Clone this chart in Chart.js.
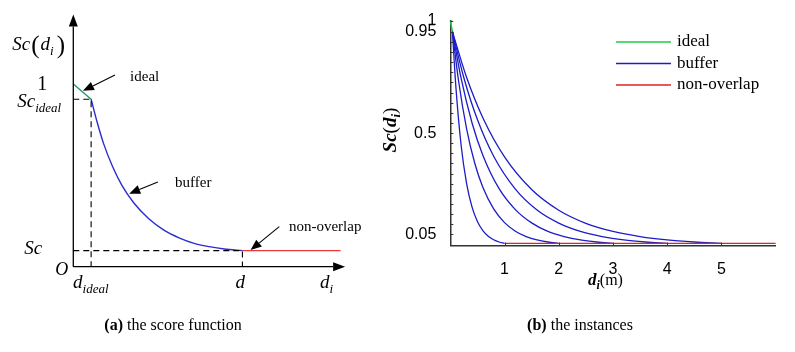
<!DOCTYPE html>
<html>
<head>
<meta charset="utf-8">
<script src="https://cdn.jsdelivr.net/npm/chart.js@4.4.1/dist/chart.umd.min.js"></script>
<style>
  body { margin: 0; background: #fff; width: 795px; height: 352px; position: relative; overflow: hidden; }
  #chartA { position: absolute; left: 0; top: 0; }
  #chartB { position: absolute; left: 370px; top: 0; }
  .caption { position: absolute; top: 316px; font: 16px "Liberation Serif", serif; color: #000; white-space: nowrap; transform: translateX(-50%); }
</style>
</head>
<body>
<canvas id="chartA" width="370" height="352"></canvas>
<canvas id="chartB" width="425" height="352"></canvas>
<div class="caption" style="left:173px"><b>(a)</b> the score function</div>
<div class="caption" style="left:580px"><b>(b)</b> the instances</div>
<script>
// ---- Panel (a): schematische Bewertungsfunktion ----
const aIdealX = [0, 0.59];
const aIdealY = [1.0, 0.917];
const aBufferX = [0.59, 0.8, 1.0, 1.3, 1.6, 2.0, 2.5, 3.0, 3.5, 4.0, 4.5, 5.0, 5.6];
const aBufferY = [0.917, 0.785, 0.675, 0.548, 0.448, 0.350, 0.262, 0.200, 0.158, 0.128, 0.110, 0.097, 0.088];
const aOverlapX = [5.60, 8.85];
const aOverlapY = [0.088, 0.088];
const aDIdeal = 0.59, aScIdeal = 0.917, aD = 5.60, aSc = 0.088;
const aXMax = 9, aYMax = 1.38;
// Pfeil-Beschriftungen: [Text, Start x, Start y, Spitze x, Spitze y, Text x, Text y]
const aNotes = [
    ['ideal', 1.38, 1.049, 0.32, 0.963, 1.88, 1.038],
    ['buffer', 2.80, 0.464, 1.85, 0.40, 3.37, 0.458],
    ['non-overlap', 6.82, 0.219, 5.87, 0.091, 7.14, 0.217]
];

// ---- Panel (b): Instanzen ----
const bXTicks = [1, 2, 3, 4, 5];
const bYTicks = [0.05, 0.095, 0.14, 0.185, 0.23, 0.275, 0.32, 0.365, 0.41, 0.455, 0.5,
                 0.545, 0.59, 0.635, 0.68, 0.725, 0.77, 0.815, 0.86, 0.905, 0.95, 1];
const bYLabels = [0.05, 0.5, 0.95, 1];
const bIdealX = [0, 0.04];
const bIdealY = [1, 0.95];
const bBuffer1X = [0.04, 0.1, 0.2, 0.3, 0.4, 0.5, 0.6, 0.7, 0.8, 0.9, 1.0];
const bBuffer1Y = [0.95, 0.715, 0.445, 0.277, 0.172, 0.107, 0.067, 0.042, 0.026, 0.016, 0.01];
const bBuffer2X = [0.04, 0.15, 0.3, 0.45, 0.6, 0.8, 1.0, 1.2, 1.4, 1.6, 1.8, 2.0];
const bBuffer2Y = [0.95, 0.736, 0.520, 0.367, 0.259, 0.163, 0.102, 0.064, 0.040, 0.025, 0.016, 0.01];
const bBuffer3X = [0.04, 0.2, 0.4, 0.6, 0.9, 1.2, 1.5, 1.8, 2.1, 2.4, 2.7, 3.0];
const bBuffer3Y = [0.95, 0.743, 0.546, 0.402, 0.253, 0.160, 0.101, 0.063, 0.040, 0.025, 0.016, 0.01];
const bBuffer4X = [0.04, 0.25, 0.5, 0.8, 1.2, 1.6, 2.0, 2.4, 2.8, 3.2, 3.6, 4.0];
const bBuffer4Y = [0.95, 0.746, 0.560, 0.397, 0.251, 0.158, 0.100, 0.063, 0.040, 0.025, 0.016, 0.01];
const bBuffer5X = [0.04, 0.3, 0.6, 1.0, 1.5, 2.0, 2.5, 3.0, 3.5, 4.0, 4.5, 5.0];
const bBuffer5Y = [0.95, 0.748, 0.568, 0.394, 0.249, 0.157, 0.099, 0.063, 0.040, 0.025, 0.016, 0.01];
const bOverlapX = [1, 6];
const bOverlapY = [0.01, 0.01];
const bLegend = [['ideal', '#22c84a'], ['buffer', '#1c1cc8'], ['non-overlap', '#dc2424']];

const serif = '"Liberation Serif", serif';
const sans = '"Liberation Sans", Arial, sans-serif';

function toPoints(xs, ys) {
    return xs.map((x, i) => ({ x: x, y: ys[i] }));
}

function line(xs, ys, color, width, extra) {
    return Object.assign({
        data: toPoints(xs, ys),
        borderColor: color,
        borderWidth: width,
        pointRadius: 0,
        fill: false,
        tension: 0,
        clip: false
    }, extra || {});
}

// Text aus mehreren Teilen (für Indizes)
function drawRich(ctx, x, y, parts) {
    let cx = x;
    parts.forEach(p => {
        ctx.font = p.f;
        cx += p.pre || 0;
        ctx.fillText(p.t, cx, y + (p.dy || 0));
        cx += ctx.measureText(p.t).width + (p.post || 0);
    });
    return cx - x;
}

function measureRich(ctx, parts) {
    let w = 0;
    parts.forEach(p => {
        ctx.font = p.f;
        w += (p.pre || 0) + ctx.measureText(p.t).width + (p.post || 0);
    });
    return w;
}

function arrow(ctx, x1, y1, x2, y2, len, half) {
    const a = Math.atan2(y2 - y1, x2 - x1);
    const bx = x2 - len * Math.cos(a), by = y2 - len * Math.sin(a);
    ctx.beginPath();
    ctx.moveTo(x1, y1);
    ctx.lineTo(bx, by);
    ctx.stroke();
    ctx.beginPath();
    ctx.moveTo(x2, y2);
    ctx.lineTo(bx + half * Math.sin(a), by - half * Math.cos(a));
    ctx.lineTo(bx - half * Math.sin(a), by + half * Math.cos(a));
    ctx.closePath();
    ctx.fill();
}

const it = s => `italic ${s}px ${serif}`;
const rg = s => `${s}px ${serif}`;

// Achsen, Pfeile und Beschriftungen für Panel (a)
const schemePlugin = {
    id: 'schemePlugin',
    afterDatasetsDraw(chart) {
        const { ctx, scales: { x, y } } = chart;
        const px = v => x.getPixelForValue(v);
        const py = v => y.getPixelForValue(v);
        ctx.save();
        ctx.strokeStyle = '#000';
        ctx.fillStyle = '#000';
        ctx.lineWidth = 1.3;
        arrow(ctx, px(0), py(0), px(0), py(aYMax), 12, 4.5);
        arrow(ctx, px(0), py(0), px(aXMax), py(0), 12, 4.5);

        ctx.lineWidth = 1.1;
        aNotes.forEach(n => arrow(ctx, px(n[1]), py(n[2]), px(n[3]), py(n[4]), 11, 4.5));
        ctx.textBaseline = 'middle';
        ctx.font = rg(15);
        aNotes.forEach(n => ctx.fillText(n[0], px(n[5]), py(n[6])));

        ctx.textBaseline = 'alphabetic';
        const x0 = px(0), y0 = py(0);
        drawRich(ctx, x0 - 61, 50, [
            { t: 'Sc', f: it(19) },
            { t: '(', f: rg(25), pre: 1, post: 1, dy: 3 },
            { t: 'd', f: it(19) },
            { t: 'i', f: it(13), dy: 5 },
            { t: ')', f: rg(25), pre: 3, dy: 3 }
        ]);
        ctx.font = rg(20);
        ctx.textAlign = 'center';
        ctx.fillText('1', x0 - 31, py(1) + 6);
        ctx.textAlign = 'left';
        drawRich(ctx, x0 - 56, py(aScIdeal) + 8, [
            { t: 'Sc', f: it(19) },
            { t: 'ideal', f: it(13), dy: 5 }
        ]);
        drawRich(ctx, x0 - 49, py(aSc) + 3, [{ t: 'Sc', f: it(19) }]);
        drawRich(ctx, x0 - 18, y0 + 8, [{ t: 'O', f: it(18) }]);
        drawRich(ctx, px(aDIdeal) - 18, y0 + 21, [
            { t: 'd', f: it(19) },
            { t: 'ideal', f: it(13), dy: 5 }
        ]);
        drawRich(ctx, px(aD) - 7, y0 + 21, [{ t: 'd', f: it(19) }]);
        drawRich(ctx, px(aXMax) - 25, y0 + 21, [
            { t: 'd', f: it(19) },
            { t: 'i', f: it(13), dy: 5 }
        ]);
        ctx.restore();
    }
};

const dashA = { borderDash: [6, 4], borderColor: '#000', borderWidth: 1.1 };

new Chart(document.getElementById('chartA'), {
    type: 'line',
    data: {
        datasets: [
            line([0, aDIdeal, aDIdeal], [aScIdeal, aScIdeal, 0], '#000', 1.1, dashA),
            line([0, aD, aD], [aSc, aSc, 0], '#000', 1.1, dashA),
            line(aIdealX, aIdealY, '#1f9a62', 1.4),
            line(aBufferX, aBufferY, '#2b2bd0', 1.4, { cubicInterpolationMode: 'monotone' }),
            line(aOverlapX, aOverlapY, '#e8393c', 1.4)
        ]
    },
    options: {
        responsive: false,
        animation: false,
        layout: { padding: { left: 73.3, right: 24.9, top: 14.6, bottom: 85.3 } },
        plugins: { legend: { display: false }, tooltip: { enabled: false } },
        scales: {
            x: { type: 'linear', min: 0, max: aXMax, display: false },
            y: { type: 'linear', min: 0, max: aYMax, display: false }
        }
    },
    plugins: [schemePlugin]
});

// Legende, Innen-Ticks und Achsentitel für Panel (b)
const instancePlugin = {
    id: 'instancePlugin',
    afterDatasetsDraw(chart) {
        const { ctx, chartArea: { left, bottom }, scales: { x, y } } = chart;
        ctx.save();
        ctx.strokeStyle = '#333';
        ctx.lineWidth = 1;
        bYTicks.forEach(v => {
            const yy = Math.round(y.getPixelForValue(v)) + 0.5;
            ctx.beginPath();
            ctx.moveTo(left, yy);
            ctx.lineTo(left + 3, yy);
            ctx.stroke();
        });
        bXTicks.forEach(v => {
            const xx = Math.round(x.getPixelForValue(v)) + 0.5;
            ctx.beginPath();
            ctx.moveTo(xx, bottom);
            ctx.lineTo(xx, bottom - 3);
            ctx.stroke();
        });

        // Legende
        ctx.lineWidth = 1.5;
        ctx.textBaseline = 'middle';
        ctx.fillStyle = '#000';
        ctx.font = rg(17);
        bLegend.forEach((item, i) => {
            const ly = 42 + i * 21.5;
            ctx.strokeStyle = item[1];
            ctx.beginPath();
            ctx.moveTo(246, ly);
            ctx.lineTo(301, ly);
            ctx.stroke();
            ctx.fillText(item[0], 307, ly);
        });

        // x-Achsentitel
        ctx.textBaseline = 'alphabetic';
        drawRich(ctx, 218, 285, [
            { t: 'd', f: `bold italic 17px ${serif}` },
            { t: 'i', f: `bold italic 12px ${serif}`, dy: 4 },
            { t: '(m)', f: rg(16) }
        ]);

        // y-Achsentitel (gedreht)
        const yParts = [
            { t: 'Sc', f: `bold italic 19px ${serif}` },
            { t: '(', f: rg(19) },
            { t: 'd', f: `bold italic 19px ${serif}` },
            { t: 'i', f: `bold italic 13px ${serif}`, dy: 4 },
            { t: ')', f: rg(19) }
        ];
        ctx.translate(26, 130);
        ctx.rotate(-Math.PI / 2);
        const w = measureRich(ctx, yParts);
        drawRich(ctx, -w / 2, 0, yParts);
        ctx.restore();
    }
};

const monotone = { cubicInterpolationMode: 'monotone' };
const tickFont = { family: sans, size: 16 };

new Chart(document.getElementById('chartB'), {
    type: 'line',
    data: {
        datasets: [
            line(bOverlapX, bOverlapY, bLegend[2][1], 1.4),
            line(bBuffer1X, bBuffer1Y, bLegend[1][1], 1.3, monotone),
            line(bBuffer2X, bBuffer2Y, bLegend[1][1], 1.3, monotone),
            line(bBuffer3X, bBuffer3Y, bLegend[1][1], 1.3, monotone),
            line(bBuffer4X, bBuffer4Y, bLegend[1][1], 1.3, monotone),
            line(bBuffer5X, bBuffer5Y, bLegend[1][1], 1.3, monotone),
            line(bIdealX, bIdealY, bLegend[0][1], 1.5)
        ]
    },
    options: {
        responsive: false,
        animation: false,
        layout: { padding: { left: 20.3, right: 19.4, top: 20.6, bottom: 76.4 } },
        plugins: { legend: { display: false }, tooltip: { enabled: false } },
        scales: {
            x: {
                type: 'linear', min: 0, max: 6,
                grid: { display: false },
                border: { color: '#333', width: 1.5 },
                afterBuildTicks: s => { s.ticks = bXTicks.map(v => ({ value: v })); },
                afterFit: s => { s.height = 30; },
                ticks: { color: '#000', font: tickFont, padding: 6, autoSkip: false, maxRotation: 0 }
            },
            y: {
                type: 'linear', min: 0, max: 1,
                grid: { display: false },
                border: { color: '#333', width: 1.5 },
                afterBuildTicks: s => { s.ticks = bYTicks.map(v => ({ value: v })); },
                afterFit: s => { s.width = 60; },
                ticks: {
                    color: '#000', font: tickFont, padding: 6, autoSkip: false,
                    callback: v => bYLabels.includes(v) ? String(v) : ''
                }
            }
        }
    },
    plugins: [instancePlugin]
});
</script>
</body>
</html>
